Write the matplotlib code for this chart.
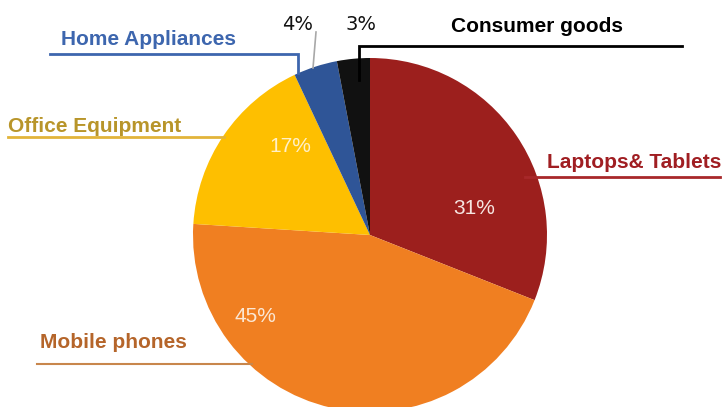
import matplotlib
matplotlib.use("Agg")
import matplotlib.pyplot as plt

plt.rcParams['font.family'] = ['Liberation Sans', 'DejaVu Sans']

categories = ["Laptops& Tablets", "Mobile phones", "Office Equipment",
              "Home Appliances", "Consumer goods"]
shares = [31, 45, 17, 4, 3]
slice_colors = ["#9C1F1D", "#F07F21", "#FEBF00", "#2F5597", "#111111"]
label_colors = ["#A01E22", "#B5652A", "#B8952A", "#3D66AE", "#000000"]
line_colors = ["#A8282A", "#C8864C", "#E2B43A", "#3D66AE", "#000000"]

W, H = 726, 407


def py(y):
    # pixel row from top -> data y
    return H - y


fig = plt.figure(figsize=(W / 100, H / 100), dpi=100)
ax = fig.add_axes([0, 0, 1, 1])
ax.set_xlim(0, W)
ax.set_ylim(0, H)
ax.set_aspect('equal')
ax.axis('off')

cx, cy, r = 370, py(235), 177
ax.pie(shares, colors=slice_colors, startangle=90, counterclock=False,
       center=(cx, cy), radius=r, frame=True,
       wedgeprops=dict(linewidth=0))
ax.set_xlim(0, W)
ax.set_ylim(0, H)
ax.axis('off')

# percentages inside / outside the slices
pct_pos = [(474, 209), (255, 316), (290, 146), (298, 25), (361, 25)]
pct_col = ["#F6E6E2", "#FBE7D4", "#FFF0C8", "#111111", "#111111"]
for v, (x, y), c, i in zip(shares, pct_pos, pct_col, range(5)):
    ax.text(x, py(y), f"{v}%", ha='center', va='center', color=c,
            fontsize=15 if i < 3 else 14,
            family=['Liberation Sans'] if i < 3 else ['DejaVu Sans'])

# category labels (left edge, baseline)
lab_pos = [(547, 168), (40, 348), (8, 132), (61, 45), (451, 32)]
for name, (x, y), c in zip(categories, lab_pos, label_colors):
    ax.text(x, py(y), name, ha='left', va='baseline', color=c,
            fontsize=15, fontweight='bold')

# leader lines
leaders = [
    [(525, 177), (720, 177)],
    [(37, 364), (252, 364)],
    [(8, 137), (224, 137)],
    [(50, 54), (298, 54), (298, 73)],
    [(682, 46), (359, 46), (359, 80)],
]
for pts, c in zip(leaders, line_colors):
    xs = [p[0] for p in pts]
    ys = [py(p[1]) for p in pts]
    ax.plot(xs, ys, color=c, lw=2 if c != line_colors[1] else 1.5,
            solid_joinstyle='miter')
ax.plot([316, 313], [py(32), py(68)], color="#A8A8A8", lw=1.2)

fig.savefig("out.png", dpi=100, facecolor='white')
